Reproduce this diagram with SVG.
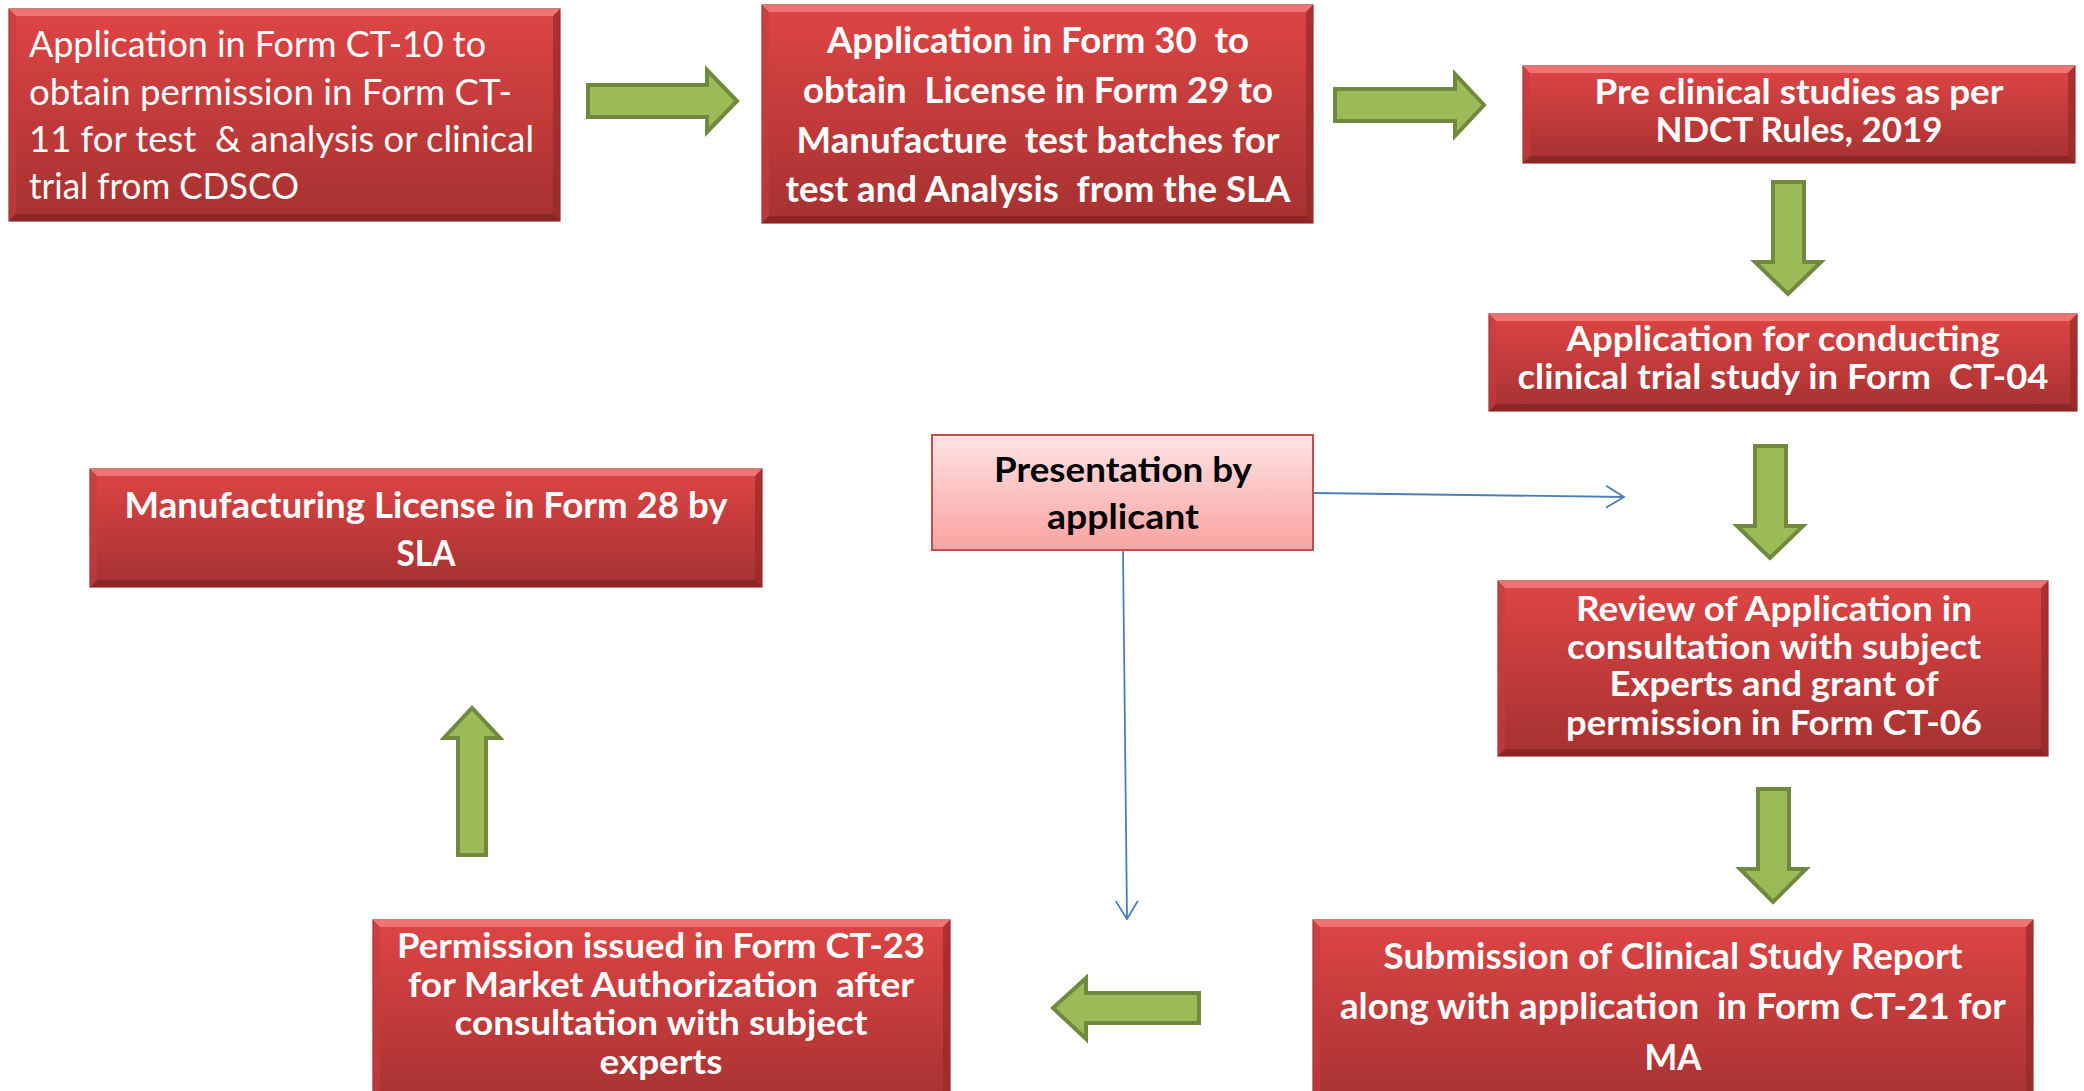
<svg xmlns="http://www.w3.org/2000/svg" width="2084" height="1091" viewBox="0 0 2084 1091">
<defs>
<linearGradient id="red" x1="0" y1="0" x2="0" y2="1">
<stop offset="0" stop-color="#de4545"/>
<stop offset="1" stop-color="#a63131"/>
</linearGradient>
<linearGradient id="pink" x1="0" y1="0" x2="0" y2="1">
<stop offset="0" stop-color="#fde3e3"/>
<stop offset="1" stop-color="#fba3a2"/>
</linearGradient>
<marker id="open" viewBox="0 0 20 24" refX="19" refY="12" markerWidth="20" markerHeight="24" markerUnits="userSpaceOnUse" orient="auto">
<path d="M1,1 L19,12 L1,23" fill="none" stroke="#4a7ebb" stroke-width="1.8"/>
</marker>
</defs>
<style>
.box{fill:url(#red);stroke:#9a2d2d;stroke-width:1.2}
.bt{fill:#f37d7b;opacity:.85}
.bb{fill:#8a2525;opacity:.9}
.bl{fill:#c73c3c;opacity:.6}
.br{fill:#952a2a;opacity:.7}
.pres{fill:url(#pink);stroke:#c0504d;stroke-width:2}
text{white-space:pre}
.t{font-family:Lato,"Open Sans","Liberation Sans",sans-serif;fill:#ffffff;font-weight:bold;text-anchor:middle}
.tr{font-family:Lato,"Open Sans","Liberation Sans",sans-serif;fill:#ffffff;font-weight:normal}
.tk{font-family:Lato,"Open Sans","Liberation Sans",sans-serif;fill:#000000;font-weight:bold;text-anchor:middle}
.ga{fill:#9bbb59;stroke:#71893f;stroke-width:4;stroke-linejoin:miter}
.cn{fill:none;stroke:#4a7ebb;stroke-width:1.8}
</style>

<g id="connectors">
<path class="ga" d="M588,85 L707,85 L707,70 L737,101 L707,132 L707,117 L588,117 Z"/>
<path class="ga" d="M1335,89 L1455,89 L1455,74 L1484,105 L1455,136 L1455,121 L1335,121 Z"/>
<path class="ga" d="M1773,182 L1804,182 L1804,262 L1821,262 L1788,294 L1755,262 L1773,262 Z"/>
<path class="ga" d="M1755,446 L1786,446 L1786,526 L1803,526 L1770,558 L1737,526 L1755,526 Z"/>
<path class="ga" d="M1758,789 L1789,789 L1789,869 L1806,869 L1773,902 L1740,869 L1758,869 Z"/>
<path class="ga" d="M1199,993 L1086,993 L1086,978 L1053,1008 L1086,1039 L1086,1023 L1199,1023 Z"/>
<path class="ga" d="M458,855 L486,855 L486,738 L500,738 L472,708 L444,738 L458,738 Z"/>
<path class="cn" d="M1313,493 L1624,497" marker-end="url(#open)"/>
<path class="cn" d="M1123,551 L1127,919" marker-end="url(#open)"/>
</g>

<g id="n1">
<rect class="box" x="9" y="9" width="551" height="212"/>
<polygon class="bt" points="9,9 560,9 553,16 16,16"/>
<polygon class="bb" points="9,221 560,221 553,214 16,214"/>
<polygon class="bl" points="9,9 16,16 16,214 9,221"/>
<polygon class="br" points="560,9 553,16 553,214 560,221"/>
<text class="tr" font-size="36" x="29" y="57" textLength="457" lengthAdjust="spacingAndGlyphs">Application in Form CT-10 to</text>
<text class="tr" font-size="36" x="29" y="105" textLength="483" lengthAdjust="spacingAndGlyphs">obtain permission in Form CT-</text>
<text class="tr" font-size="36" x="29" y="152" textLength="505" lengthAdjust="spacingAndGlyphs">11 for test  &amp; analysis or clinical</text>
<text class="tr" font-size="36" x="29" y="199" textLength="270" lengthAdjust="spacingAndGlyphs">trial from CDSCO</text>
</g>

<g id="n2">
<rect class="box" x="762" y="5" width="551" height="218"/>
<polygon class="bt" points="762,5 1313,5 1306,12 769,12"/>
<polygon class="bb" points="762,223 1313,223 1306,216 769,216"/>
<polygon class="bl" points="762,5 769,12 769,216 762,223"/>
<polygon class="br" points="1313,5 1306,12 1306,216 1313,223"/>
<text class="t" font-size="37" x="1038" y="53" textLength="422" lengthAdjust="spacingAndGlyphs">Application in Form 30  to</text>
<text class="t" font-size="37" x="1038" y="103" textLength="470" lengthAdjust="spacingAndGlyphs">obtain  License in Form 29 to</text>
<text class="t" font-size="37" x="1038" y="153" textLength="483" lengthAdjust="spacingAndGlyphs">Manufacture  test batches for</text>
<text class="t" font-size="37" x="1038" y="202" textLength="505" lengthAdjust="spacingAndGlyphs">test and Analysis  from the SLA</text>
</g>

<g id="n3">
<rect class="box" x="1523" y="66" width="552" height="97"/>
<polygon class="bt" points="1523,66 2075,66 2068,73 1530,73"/>
<polygon class="bb" points="1523,163 2075,163 2068,156 1530,156"/>
<polygon class="bl" points="1523,66 1530,73 1530,156 1523,163"/>
<polygon class="br" points="2075,66 2068,73 2068,156 2075,163"/>
<text class="t" font-size="35" x="1799" y="104" textLength="409" lengthAdjust="spacingAndGlyphs">Pre clinical studies as per</text>
<text class="t" font-size="35" x="1799" y="142" textLength="287" lengthAdjust="spacingAndGlyphs">NDCT Rules, 2019</text>
</g>

<g id="n4">
<rect class="box" x="1489" y="314" width="588" height="97"/>
<polygon class="bt" points="1489,314 2077,314 2070,321 1496,321"/>
<polygon class="bb" points="1489,411 2077,411 2070,404 1496,404"/>
<polygon class="bl" points="1489,314 1496,321 1496,404 1489,411"/>
<polygon class="br" points="2077,314 2070,321 2070,404 2077,411"/>
<text class="t" font-size="35" x="1783" y="351" textLength="433" lengthAdjust="spacingAndGlyphs">Application for conducting</text>
<text class="t" font-size="35" x="1783" y="389" textLength="531" lengthAdjust="spacingAndGlyphs">clinical trial study in Form  CT-04</text>
</g>

<g id="n5">
<rect class="pres" x="932" y="435" width="381" height="115"/>
<text class="tk" font-size="35" x="1123" y="482" textLength="258" lengthAdjust="spacingAndGlyphs">Presentation by</text>
<text class="tk" font-size="35" x="1123" y="529" textLength="152" lengthAdjust="spacingAndGlyphs">applicant</text>
</g>

<g id="n6">
<rect class="box" x="1498" y="581" width="550" height="175"/>
<polygon class="bt" points="1498,581 2048,581 2041,588 1505,588"/>
<polygon class="bb" points="1498,756 2048,756 2041,749 1505,749"/>
<polygon class="bl" points="1498,581 1505,588 1505,749 1498,756"/>
<polygon class="br" points="2048,581 2041,588 2041,749 2048,756"/>
<text class="t" font-size="34" x="1774" y="621" textLength="396" lengthAdjust="spacingAndGlyphs">Review of Application in</text>
<text class="t" font-size="34" x="1774" y="659" textLength="414" lengthAdjust="spacingAndGlyphs">consultation with subject</text>
<text class="t" font-size="34" x="1774" y="696" textLength="329" lengthAdjust="spacingAndGlyphs">Experts and grant of</text>
<text class="t" font-size="34" x="1774" y="735" textLength="416" lengthAdjust="spacingAndGlyphs">permission in Form CT-06</text>
</g>

<g id="n7">
<rect class="box" x="1313" y="920" width="720" height="190"/>
<polygon class="bt" points="1313,920 2033,920 2026,927 1320,927"/>
<polygon class="bl" points="1313,920 1320,927 1320,1110 1313,1110"/>
<polygon class="br" points="2033,920 2026,927 2026,1110 2033,1110"/>
<text class="t" font-size="37" x="1673" y="969" textLength="579" lengthAdjust="spacingAndGlyphs">Submission of Clinical Study Report</text>
<text class="t" font-size="37" x="1673" y="1019" textLength="666" lengthAdjust="spacingAndGlyphs">along with application  in Form CT-21 for</text>
<text class="t" font-size="37" x="1673" y="1070" textLength="57" lengthAdjust="spacingAndGlyphs">MA</text>
</g>

<g id="n8">
<rect class="box" x="373" y="920" width="577" height="190"/>
<polygon class="bt" points="373,920 950,920 943,927 380,927"/>
<polygon class="bl" points="373,920 380,927 380,1110 373,1110"/>
<polygon class="br" points="950,920 943,927 943,1110 950,1110"/>
<text class="t" font-size="34" x="661" y="958" textLength="528" lengthAdjust="spacingAndGlyphs">Permission issued in Form CT-23</text>
<text class="t" font-size="34" x="661" y="997" textLength="506" lengthAdjust="spacingAndGlyphs">for Market Authorization  after</text>
<text class="t" font-size="34" x="661" y="1035" textLength="413" lengthAdjust="spacingAndGlyphs">consultation with subject</text>
<text class="t" font-size="34" x="661" y="1074" textLength="123" lengthAdjust="spacingAndGlyphs">experts</text>
</g>

<g id="n9">
<rect class="box" x="90" y="469" width="672" height="118"/>
<polygon class="bt" points="90,469 762,469 755,476 97,476"/>
<polygon class="bb" points="90,587 762,587 755,580 97,580"/>
<polygon class="bl" points="90,469 97,476 97,580 90,587"/>
<polygon class="br" points="762,469 755,476 755,580 762,587"/>
<text class="t" font-size="37" x="426" y="518" textLength="603" lengthAdjust="spacingAndGlyphs">Manufacturing License in Form 28 by</text>
<text class="t" font-size="37" x="426" y="566" textLength="59" lengthAdjust="spacingAndGlyphs">SLA</text>
</g>
</svg>
